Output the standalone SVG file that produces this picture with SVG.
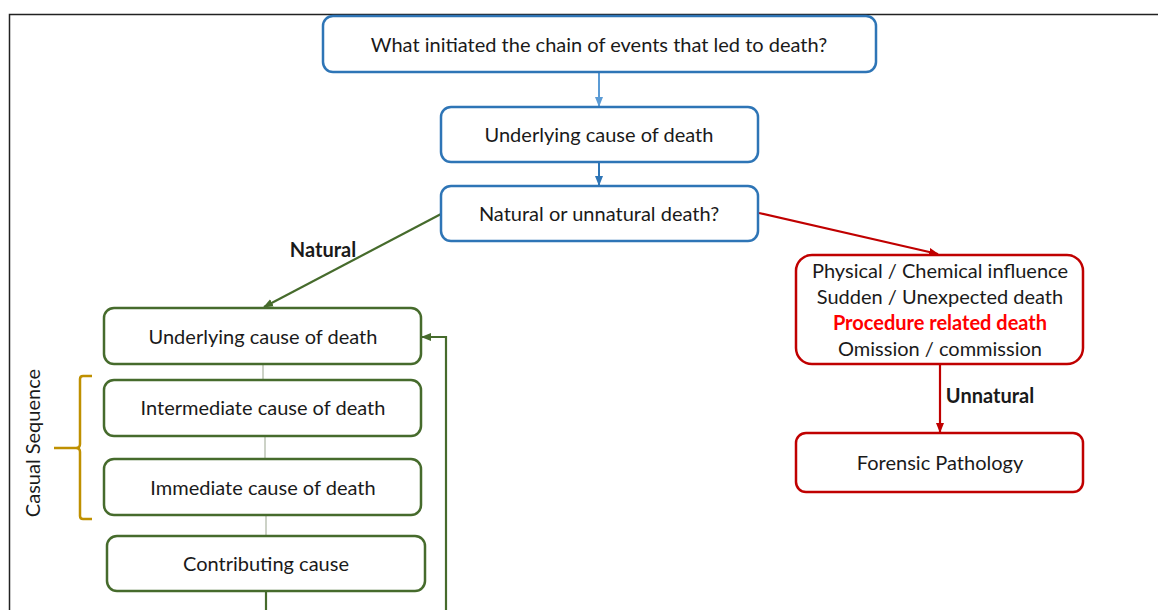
<svg xmlns="http://www.w3.org/2000/svg" width="1158" height="610" viewBox="0 0 1158 610">
<style>
text{font-family:Lato,"Liberation Sans",sans-serif;font-size:20px;fill:#1a1a1a;text-anchor:middle}
.b{fill:#fff;stroke:#2E75B6;stroke-width:2.5}
.g{fill:#fff;stroke:#466B2C;stroke-width:2.5}
.r{fill:#fff;stroke:#C00000;stroke-width:2.5}
.bold{font-weight:bold}
</style>
<defs>
<marker id="ab" markerWidth="10" markerHeight="10" refX="9" refY="5" orient="auto" markerUnits="userSpaceOnUse"><path d="M0,1 L10,5 L0,9 z" fill="#5B9BD5"/></marker>
<marker id="ab2" markerWidth="10" markerHeight="10" refX="9" refY="5" orient="auto" markerUnits="userSpaceOnUse"><path d="M0,1 L10,5 L0,9 z" fill="#2E75B6"/></marker>
<marker id="ag" markerWidth="10" markerHeight="10" refX="9" refY="5" orient="auto" markerUnits="userSpaceOnUse"><path d="M0,1 L10,5 L0,9 z" fill="#466B2C"/></marker>
<marker id="ar" markerWidth="10" markerHeight="10" refX="9" refY="5" orient="auto" markerUnits="userSpaceOnUse"><path d="M0,1 L10,5 L0,9 z" fill="#C00000"/></marker>
</defs>
<rect x="9.5" y="14.5" width="1160" height="620" fill="none" stroke="#222" stroke-width="1.5"/>
<g id="connectors" fill="none">
<line x1="599" y1="72" x2="599" y2="106" stroke="#5B9BD5" stroke-width="2" marker-end="url(#ab)"/>
<line x1="599" y1="162" x2="599" y2="185" stroke="#2E75B6" stroke-width="2" marker-end="url(#ab2)"/>
<line x1="441" y1="214" x2="264" y2="307" stroke="#466B2C" stroke-width="2.2" marker-end="url(#ag)"/>
<line x1="759" y1="213" x2="938" y2="254" stroke="#C00000" stroke-width="2.2" marker-end="url(#ar)"/>
<line x1="940" y1="365" x2="940" y2="432" stroke="#C00000" stroke-width="2.2" marker-end="url(#ar)"/>
<line x1="263" y1="365" x2="263" y2="380" stroke="#9aa58f" stroke-width="1"/>
<line x1="265" y1="437" x2="265" y2="459" stroke="#9aa58f" stroke-width="1"/>
<line x1="266" y1="516" x2="266" y2="536" stroke="#9aa58f" stroke-width="1"/>
<line x1="266" y1="592" x2="266" y2="612" stroke="#466B2C" stroke-width="2.2"/>
<polyline points="446,612 446,337 422,337" stroke="#466B2C" stroke-width="2.2" marker-end="url(#ag)"/>
<text x="323" y="257" class="bold">Natural</text>
<text x="990" y="403" class="bold">Unnatural</text>
</g>
<g id="bracket">
<path d="M92,376 H83 Q80,376 80,379 V444 Q80,448 76,448 H54 M76,448 Q80,448 80,452 V516 Q80,519 83,519 H92" fill="none" stroke="#BF9000" stroke-width="2.5"/>
<text transform="translate(40,443) rotate(-90)">Casual Sequence</text>
</g>
<g id="n1"><rect class="b" x="323" y="16" width="553" height="56" rx="10"/><text x="599" y="52">What initiated the chain of events that led to death?</text></g>
<g id="n2"><rect class="b" x="441" y="107" width="317" height="55" rx="10"/><text x="599" y="142">Underlying cause of death</text></g>
<g id="n3"><rect class="b" x="441" y="186" width="317" height="55" rx="10"/><text x="599" y="221">Natural or unnatural death?</text></g>
<g id="n4"><rect class="r" x="796" y="255" width="287" height="109" rx="16"/>
<text x="940" y="278">Physical / Chemical influence</text>
<text x="940" y="304">Sudden / Unexpected death</text>
<text x="940" y="330" class="bold" style="fill:#FF0000">Procedure related death</text>
<text x="940" y="356">Omission / commission</text></g>
<g id="n5"><rect class="r" x="796" y="433" width="287" height="59" rx="10"/><text x="940" y="470">Forensic Pathology</text></g>
<g id="n6"><rect class="g" x="104" y="308" width="317" height="56" rx="10"/><text x="263" y="344">Underlying cause of death</text></g>
<g id="n7"><rect class="g" x="104" y="380" width="317" height="56" rx="10"/><text x="263" y="415">Intermediate cause of death</text></g>
<g id="n8"><rect class="g" x="104" y="459" width="317" height="56" rx="10"/><text x="263" y="495">Immediate cause of death</text></g>
<g id="n9"><rect class="g" x="107" y="536" width="318" height="55" rx="10"/><text x="266" y="571">Contributing cause</text></g>
</svg>
